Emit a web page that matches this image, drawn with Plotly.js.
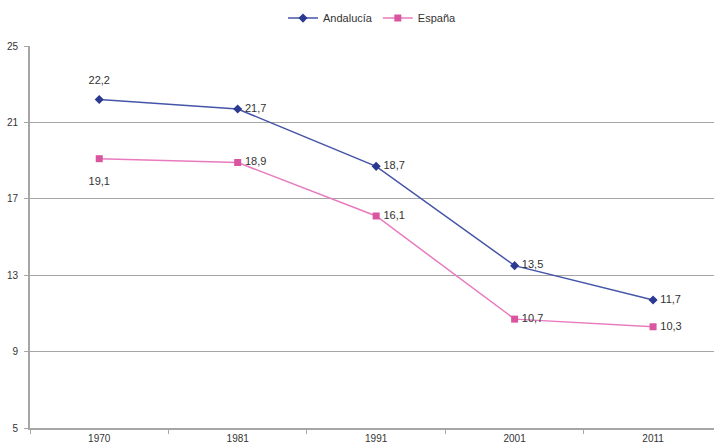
<!DOCTYPE html>
<html><head><meta charset="utf-8">
<script src="https://cdn.plot.ly/plotly-3.0.1.min.js"></script>
<style>html,body{margin:0;padding:0;background:#fff}#c{width:714px;height:447px}</style>
</head><body><div id="c"></div>
<script>
const years = ['1970','1981','1991','2001','2011'];
const andalucia = [22.2, 21.7, 18.7, 13.5, 11.7];
const espana = [19.1, 18.9, 16.1, 10.7, 10.3];
const yTicks = [5, 9, 13, 17, 21, 25];

const fmt = v => v.toFixed(1).replace('.', ',');
const blue = '#2B3990', blueLine = '#4655A8';
const pink = '#D9559F', pinkLine = '#E87BBE';
const labelFont = {family: 'Liberation Sans, Arial, sans-serif', size: 11, color: '#333'};

const labelTrace = (xs, ys, pos, size) => ({
  x: xs, y: ys, type: 'scatter', mode: 'markers+text', text: ys.map(fmt), textfont: labelFont,
  textposition: pos, marker: {size: size, color: 'rgba(0,0,0,0)'}, showlegend: false, hoverinfo: 'skip'
});

const traces = [
  {x: years, y: andalucia, name: 'Andalucía', type: 'scatter', mode: 'lines+markers',
   line: {color: blueLine, width: 1.5}, marker: {symbol: 'diamond', size: 7, color: blue}},
  {x: years, y: espana, name: 'España', type: 'scatter', mode: 'lines+markers',
   line: {color: pinkLine, width: 1.5}, marker: {symbol: 'square', size: 7, color: pink}},
  labelTrace(years.slice(0, 1), andalucia.slice(0, 1), 'top center', 18),
  labelTrace(years.slice(1), andalucia.slice(1), 'middle right', 10),
  labelTrace(years.slice(0, 1), espana.slice(0, 1), 'bottom center', 28),
  labelTrace(years.slice(1), espana.slice(1), 'middle right', 10)
];

const layout = {
  width: 714, height: 447,
  margin: {l: 30, r: 0, t: 46, b: 19},
  paper_bgcolor: '#fff', plot_bgcolor: '#fff',
  font: {family: 'Liberation Sans, Arial, sans-serif', size: 10, color: '#333'},
  showlegend: true,
  legend: {orientation: 'h', x: 0.5, xanchor: 'center', y: 1.073, yanchor: 'middle',
    font: {size: 11, color: '#333'}, itemwidth: 30, tracegroupgap: 0},
  xaxis: {type: 'category', range: [-0.5, 4.44], showgrid: false, showline: true,
    linecolor: '#A6A6A6', linewidth: 2, ticks: 'outside', tickson: 'boundaries',
    ticklen: 4, tickcolor: '#A6A6A6', zeroline: false, fixedrange: true},
  yaxis: {range: [5, 25], tickvals: yTicks, showgrid: true, gridcolor: '#A6A6A6', gridwidth: 1.3,
    showline: true, linecolor: '#A6A6A6', linewidth: 2, ticks: 'outside', ticklen: 4,
    tickcolor: '#A6A6A6', zeroline: false, ticklabelstandoff: 4}
};
Plotly.newPlot('c', traces, layout, {displayModeBar: false, staticPlot: true});
</script></body></html>
